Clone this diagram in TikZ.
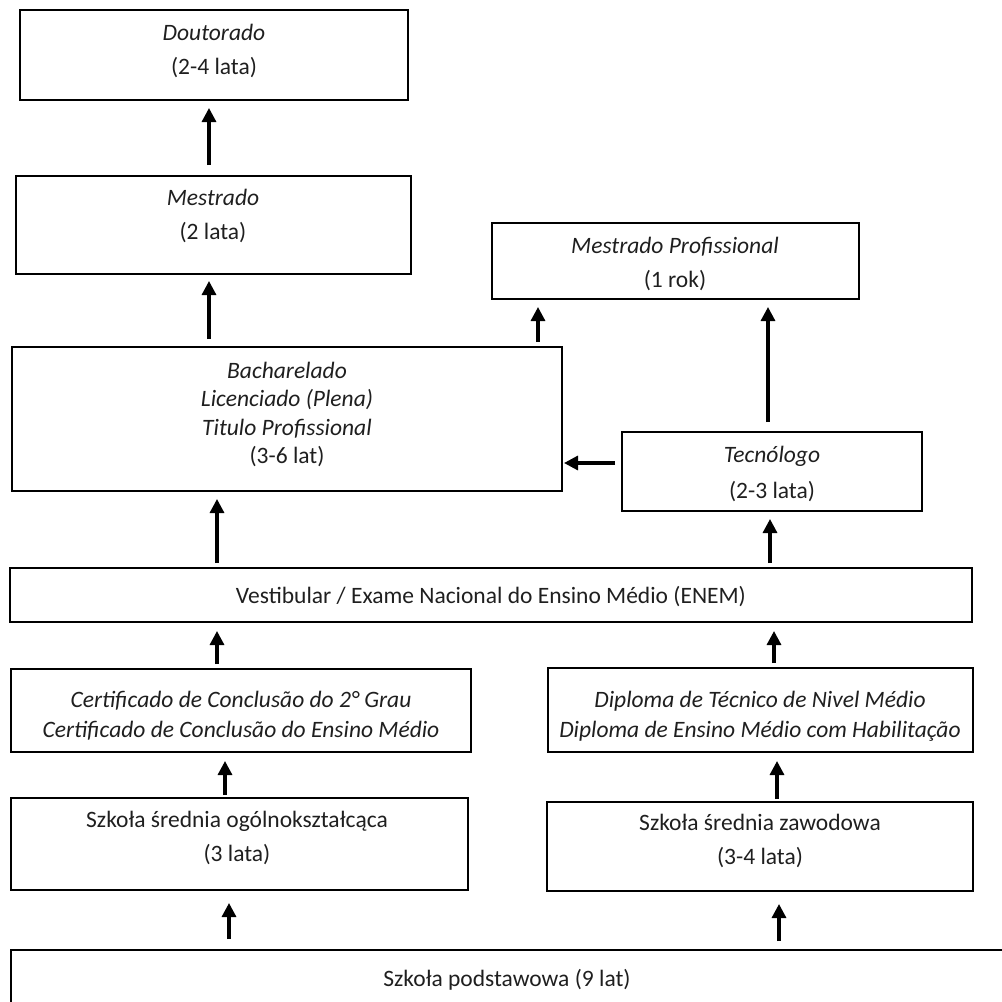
\documentclass[tikz,border=0pt]{standalone}
\usepackage{fontspec}
\setmainfont{Carlito}
\usetikzlibrary{arrows.meta,fit}
\begin{document}
\begin{tikzpicture}[x=1pt,y=-1pt,
  box/.style={draw=black, line width=2pt, rectangle, inner sep=0pt},
  txt/.style={align=center, inner sep=0pt, text=black!88, font=\fontsize{23.5}{33.5}\selectfont},
  arr/.style={line width=3.2pt, -{Triangle[length=14pt,width=14pt]}}]
\useasboundingbox (0,0) rectangle (1002,1002);
\newcommand\boxat[5]{\node[box,fit={(#2,#3) (#4,#5)}] (#1) {};}
% boxes
\boxat{dout}{20}{10}{408}{100}
\boxat{mest}{16}{176}{411}{274}
\boxat{mp}{492}{223}{859}{299}
\boxat{bach}{12}{347}{562}{491}
\boxat{tec}{622}{432}{922}{511}
\boxat{vest}{10}{568}{972}{622}
\boxat{cert}{11}{669}{471}{752}
\boxat{dipl}{548}{668}{973}{752}
\boxat{ogol}{11}{798}{468}{890}
\boxat{zaw}{547}{802}{973}{891}
\boxat{pods}{11}{950}{1020}{1030}
% texts
\node[txt] (tdout) at (214,51) {\textit{Doutorado}\\(2-4 lata)};
\node[txt] (tmest) at (213,216) {\textit{Mestrado}\\(2 lata)};
\node[txt] (tmp) at (675,264) {\textit{Mestrado Profissional}\\(1 rok)};
\node[txt,font=\fontsize{23.5}{28.5}\selectfont] (tbach) at (287,414.5) {\textit{Bacharelado}\\\textit{Licenciado (Plena)}\\\textit{Titulo Profissional}\\(3-6 lat)};
\node[txt,font=\fontsize{23.5}{36}\selectfont] (ttec) at (772,474) {\textit{Tecnólogo}\\(2-3 lata)};
\node[txt] (tvest) at (491,597) {Vestibular / Exame Nacional do Ensino Médio (ENEM)};
\node[txt,font=\fontsize{23.5}{30}\selectfont] (tcert) at (241,716) {\textit{Certificado de Conclusão do 2° Grau}\\\textit{Certificado de Conclusão do Ensino Médio}};
\node[txt,font=\fontsize{23.5}{30}\selectfont] (tdipl) at (760,716) {\textit{Diploma de Técnico de Nivel Médio}\\\textit{Diploma de Ensino Médio com Habilitação}};
\node[txt] (togol) at (237,838) {Szkoła średnia ogólnokształcąca\\(3 lata)};
\node[txt] (tzaw) at (760,841) {Szkoła średnia zawodowa\\(3-4 lata)};
\node[txt] (tpods) at (507,980) {Szkoła podstawowa (9 lat)};
% arrows
\draw[arr,shorten <=10pt,shorten >=7pt] (209,0 |- mest.north) -- (209,0 |- dout.south);
\draw[arr,shorten <=7pt,shorten >=6pt] (209,0 |- bach.north) -- (209,0 |- mest.south);
\draw[arr,shorten <=4pt,shorten >=7pt] (538,0 |- bach.north) -- (538,0 |- mp.south);
\draw[arr,shorten <=9pt,shorten >=7pt] (768,0 |- tec.north) -- (768,0 |- mp.south);
\draw[arr,shorten <=6pt,shorten >=1pt] (0,463 -| tec.west) -- (0,463 -| bach.east);
\draw[arr,shorten <=4pt,shorten >=7pt] (217,0 |- vest.north) -- (217,0 |- bach.south);
\draw[arr,shorten <=4pt,shorten >=7pt] (770,0 |- vest.north) -- (770,0 |- tec.south);
\draw[arr,shorten <=4pt,shorten >=8pt] (217,0 |- cert.north) -- (217,0 |- vest.south);
\draw[arr,shorten <=4pt,shorten >=8pt] (774,0 |- dipl.north) -- (774,0 |- vest.south);
\draw[arr,shorten <=2pt,shorten >=8pt] (225,0 |- ogol.north) -- (225,0 |- cert.south);
\draw[arr,shorten <=2pt,shorten >=8pt] (777,0 |- zaw.north) -- (777,0 |- dipl.south);
\draw[arr,shorten <=10pt,shorten >=12pt] (229,0 |- pods.north) -- (229,0 |- ogol.south);
\draw[arr,shorten <=8pt,shorten >=12pt] (779,0 |- pods.north) -- (779,0 |- zaw.south);
\end{tikzpicture}
\end{document}
